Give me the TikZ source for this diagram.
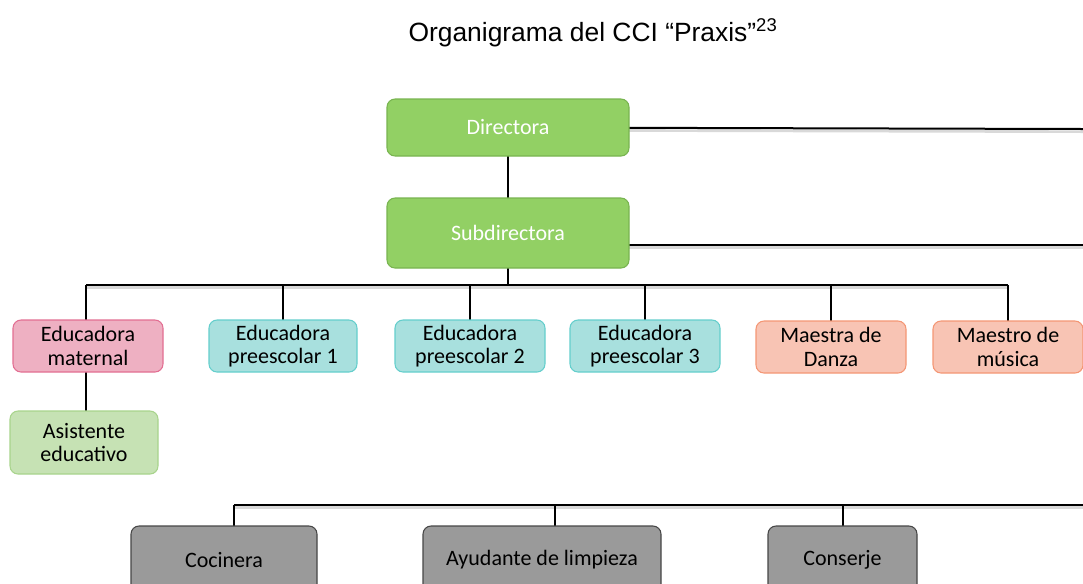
\documentclass[tikz,border=0pt]{standalone}
\usepackage{fontspec}
\setmainfont{Carlito}
\newfontfamily\titlefont{Liberation Sans}
\begin{document}
\begin{tikzpicture}[x=0.75pt,y=-0.75pt,
  box/.style={draw, rounded corners=6pt, line width=0.8pt, align=center, inner sep=0pt, font=\fontsize{16.5}{17.5}\selectfont},
  greenbox/.style={box, fill={rgb,255:red,146;green,208;blue,100}, draw={rgb,255:red,120;green,180;blue,80}, text=white},
  pinkbox/.style={box, fill={rgb,255:red,238;green,176;blue,194}, draw={rgb,255:red,226;green,110;blue,146}},
  cyanbox/.style={box, fill={rgb,255:red,168;green,224;blue,222}, draw={rgb,255:red,100;green,206;blue,204}},
  salmonbox/.style={box, fill={rgb,255:red,248;green,196;blue,180}, draw={rgb,255:red,244;green,150;blue,116}},
  lgreenbox/.style={box, fill={rgb,255:red,198;green,226;blue,180}, draw={rgb,255:red,168;green,212;blue,140}},
  graybox/.style={box, fill={rgb,255:red,154;green,154;blue,154}, draw={rgb,255:red,70;green,70;blue,70}},
  conn/.style={line width=1.5pt, black, preaction={draw, black!15, line width=2pt, transform canvas={yshift=-2pt}}}
]
\useasboundingbox (0,0) rectangle (1083,583);
\clip (0,0) rectangle (1083,583);

\node[font=\titlefont\fontsize{19.8}{23}\selectfont] (title) at (593,33) {Organigrama del CCI “Praxis”\textsuperscript{23}};

% coordinates
\coordinate (r1) at (1083,129);
\coordinate (r2) at (1083,245);
\coordinate (bl) at (86,285);
\coordinate (br) at (1008,285);
\coordinate (c1) at (234,505);
\coordinate (c2) at (555,505);
\coordinate (c3) at (843,505);
\coordinate (cr) at (1083,505);

% connectors (drawn first)
\draw[conn] (508,127.5) -- (r1);
\draw[conn] (508,127.5) -- (508,233);
\draw[conn] (508,245) -- (r2);
\draw[conn] (508,233) -- (508,285);
\draw[conn] (bl) -- (br);
\foreach \x in {86,283,470,645,831,1008} \draw[conn] (\x,285) -- (\x,340);
\draw[conn] (86,346) -- (86,440);
\draw[conn] (c1) -- (cr);
\foreach \x in {234,555,843} \draw[conn] (\x,505) -- (\x,540);

% boxes
\node[greenbox, minimum width=242*0.75pt, minimum height=57*0.75pt] (dir) at (508,127.5) {Directora};
\node[greenbox, minimum width=242*0.75pt, minimum height=70*0.75pt] (sub) at (508,233) {Subdirectora};
\node[pinkbox, minimum width=150*0.75pt, minimum height=52*0.75pt] (mat) at (88,346) {Educadora\\maternal};
\node[lgreenbox, minimum width=148*0.75pt, minimum height=63*0.75pt] (asis) at (84,442.5) {Asistente\\educativo};
\node[cyanbox, minimum width=148*0.75pt, minimum height=52*0.75pt] (p1) at (283,346) {Educadora\\preescolar 1};
\node[cyanbox, minimum width=150*0.75pt, minimum height=52*0.75pt] (p2) at (470,346) {Educadora\\preescolar 2};
\node[cyanbox, minimum width=150*0.75pt, minimum height=52*0.75pt] (p3) at (645,346) {Educadora\\preescolar 3};
\node[salmonbox, minimum width=150*0.75pt, minimum height=52*0.75pt] (dan) at (831,347) {Maestra de\\Danza};
\node[salmonbox, minimum width=150*0.75pt, minimum height=52*0.75pt] (mus) at (1008,347) {Maestro de\\música};
\node[graybox, minimum width=186*0.75pt, minimum height=68*0.75pt] (coc) at (224,560) {Cocinera};
\node[graybox, minimum width=238*0.75pt, minimum height=68*0.75pt] (ayu) at (542,560) {Ayudante de limpieza};
\node[graybox, minimum width=149*0.75pt, minimum height=68*0.75pt] (con) at (842.5,560) {Conserje};
\end{tikzpicture}
\end{document}
